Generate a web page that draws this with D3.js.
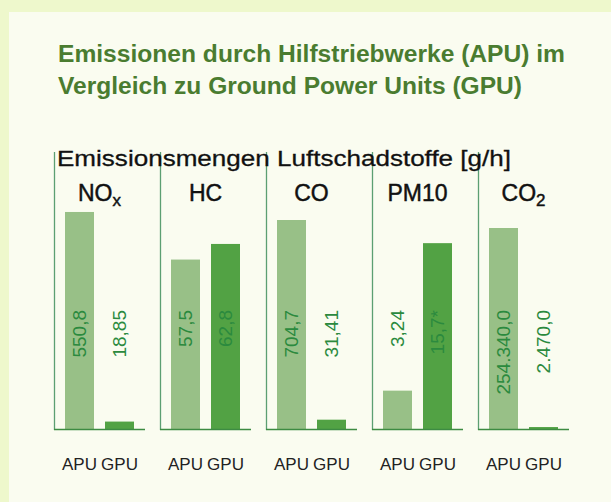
<!DOCTYPE html>
<html>
<head>
<meta charset="utf-8">
<script src="https://cdn.jsdelivr.net/npm/d3@7/dist/d3.min.js"></script>
<style>
  html, body { margin: 0; padding: 0; background: #eef8cc; }
  svg { display: block; }
</style>
</head>
<body>
<svg id="chart" width="611" height="502"></svg>
<script>
// ---- data ----
const pollutants = ["NOx", "HC", "CO", "PM10", "CO2"];
const sources = ["APU", "GPU"];
const apuValues = [550.8, 57.5, 704.7, 3.24, 254340.0];
const gpuValues = [18.85, 62.8, 31.41, 15.7, 2470.0];
const apuLabels = ["550,8", "57,5", "704,7", "3,24", "254.340,0"];
const gpuLabels = ["18,85", "62,8", "31,41", "15,7*", "2.470,0"];
// each panel has its own vertical scale (top of panel value)
const panelScaleMax = [703, 94, 934, 23.4, 350500];
const titleLines = ["Emissionen durch Hilfstriebwerke (APU) im", "Vergleich zu Ground Power Units (GPU)"];
const subtitle = "Emissionsmengen Luftschadstoffe [g/h]";

// ---- layout ----
const svg = d3.select("#chart");
const baseY = 429, topY = 152;
const font = "'Liberation Sans', Arial, Helvetica, sans-serif";

svg.append("rect").attr("x", 0).attr("y", 0).attr("width", 611).attr("height", 502).attr("fill", "#eef8cc");
svg.append("rect").attr("x", 9).attr("y", 12).attr("width", 602).attr("height", 490).attr("fill", "#fafcf0");

// title
const titleLen = [507, 464];
svg.selectAll("text.title").data(titleLines).join("text")
  .attr("class", "title")
  .attr("x", 58).attr("y", (d, i) => 62 + i * 31.5)
  .attr("font-family", font).attr("font-weight", "bold").attr("font-size", 23)
  .attr("fill", "#4a7c30")
  .attr("textLength", (d, i) => titleLen[i]).attr("lengthAdjust", "spacingAndGlyphs")
  .text(d => d);

const x0 = d3.scaleBand().domain(pollutants).range([54, 569]).paddingInner(15 / 106).paddingOuter(0);
const x1 = d3.scaleBand().domain(sources).range([0, x0.bandwidth()]).paddingInner(0.275).paddingOuter(0.275);
const colors = { APU: "#98c087", GPU: "#52a244" };

const panels = svg.selectAll("g.panel").data(pollutants).join("g")
  .attr("class", "panel")
  .attr("transform", d => `translate(${x0(d)},0)`);

panels.each(function (p, i) {
  const g = d3.select(this);
  const y = d3.scaleLinear().domain([0, panelScaleMax[i]]).range([baseY, topY]);
  const rows = [
    { s: "APU", v: apuValues[i], l: apuLabels[i] },
    { s: "GPU", v: gpuValues[i], l: gpuLabels[i] }
  ];
  // vertical separator line
  g.append("line").attr("x1", 0.5).attr("x2", 0.5).attr("y1", topY).attr("y2", baseY + 1)
    .attr("stroke", "#5c9f72").attr("stroke-width", 1.3);
  // bars
  g.selectAll("rect.bar").data(rows).join("rect")
    .attr("class", "bar")
    .attr("x", d => x1(d.s)).attr("width", x1.bandwidth())
    .attr("y", d => y(d.v)).attr("height", d => Math.max(1.5, baseY - y(d.v)))
    .attr("fill", d => colors[d.s]);
  // baseline
  g.append("line").attr("x1", 0).attr("x2", x0.bandwidth()).attr("y1", baseY + 0.5).attr("y2", baseY + 0.5)
    .attr("stroke", "#3d8b42").attr("stroke-width", 1.6);
  // value labels (rotated)
  g.selectAll("text.val").data(rows).join("text")
    .attr("class", "val")
    .attr("transform", d => `translate(${x1(d.s) + x1.bandwidth() / 2},310) rotate(-90)`)
    .attr("text-anchor", "end").attr("dy", "0.36em")
    .attr("font-family", font).attr("font-size", 19)
    .attr("fill", "#2b8a3e")
    .text(d => d.l);
  // source labels
  g.selectAll("text.src").data(rows).join("text")
    .attr("class", "src")
    .attr("x", d => x1(d.s) + x1.bandwidth() / 2).attr("y", 470)
    .attr("text-anchor", "middle")
    .attr("font-family", font).attr("font-size", 17)
    .attr("fill", "#222")
    .text(d => d.s);
  // category label with subscripts
  const t = g.append("text")
    .attr("x", x0.bandwidth() / 2).attr("y", 201)
    .attr("text-anchor", "middle")
    .attr("font-family", font).attr("font-size", 23)
    .attr("fill", "#111").attr("stroke", "#111").attr("stroke-width", 0.45);
  const m = p.match(/^(NO|CO)(x|2)$/);
  if (m) {
    t.append("tspan").text(m[1]);
    t.append("tspan").attr("font-size", 17).attr("dy", 5).text(m[2]);
  } else {
    t.text(p);
  }
});

// subtitle (drawn over panel lines)
svg.append("text")
  .attr("x", 57).attr("y", 166)
  .attr("font-family", font).attr("font-size", 22)
  .attr("fill", "#111").attr("stroke", "#111").attr("stroke-width", 0.3)
  .attr("textLength", 454).attr("lengthAdjust", "spacingAndGlyphs")
  .text(subtitle);
</script>
</body>
</html>
